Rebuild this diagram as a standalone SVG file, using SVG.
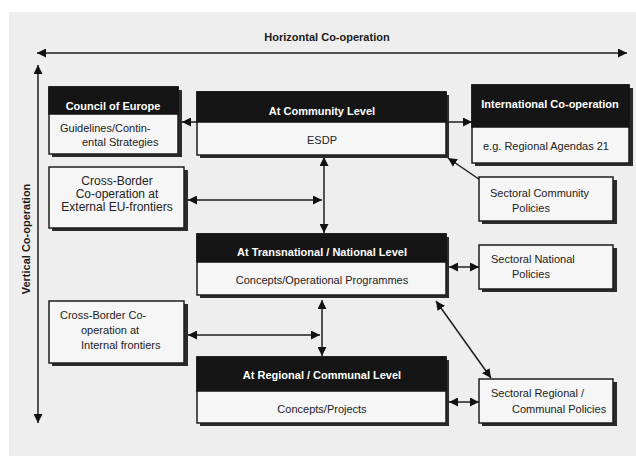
<svg xmlns="http://www.w3.org/2000/svg" width="636" height="456" viewBox="0 0 636 456">
<defs>
<style>
.bg{fill:#eeeeee}
.sh{fill:#2b2b2b}
.box{fill:#f6f6f6;stroke:#1e1e1e;stroke-width:1.5}
.hd{fill:#151515;stroke:#151515;stroke-width:1.5}
.t{font-family:"Liberation Sans",Arial,sans-serif;font-size:11px;fill:#222}
.t12{font-family:"Liberation Sans",Arial,sans-serif;font-size:12px;fill:#222}
.h{font-family:"Liberation Sans",Arial,sans-serif;font-size:11px;font-weight:bold;fill:#ffffff}
.lbl{font-family:"Liberation Sans",Arial,sans-serif;font-size:11px;font-weight:bold;fill:#1a1a1a}
.c{text-anchor:middle}
.ln{stroke:#1e1e1e;stroke-width:1.5;fill:none}
</style>
<marker id="ah" viewBox="0 0 10 10" refX="10" refY="5" markerWidth="9" markerHeight="9" markerUnits="userSpaceOnUse" orient="auto-start-reverse">
<path d="M0,0 L10,5 L0,10 z" fill="#111"/>
</marker>
</defs>
<rect x="0" y="0" width="636" height="456" fill="#ffffff"/>
<rect class="bg" x="9" y="12" width="627" height="444"/>

<text class="lbl c" x="327" y="41">Horizontal Co-operation</text>
<text class="lbl c" transform="translate(30,239) rotate(-90)">Vertical Co-operation</text>

<g id="connectors">
<line class="ln" x1="37" y1="53" x2="627" y2="53" marker-start="url(#ah)" marker-end="url(#ah)"/>
<line class="ln" x1="38" y1="65" x2="38" y2="423" marker-start="url(#ah)" marker-end="url(#ah)"/>
<line class="ln" x1="197" y1="122" x2="182" y2="122" marker-end="url(#ah)"/>
<line class="ln" x1="446" y1="122" x2="472" y2="122" marker-end="url(#ah)"/>
<line class="ln" x1="324" y1="157" x2="324" y2="233" marker-start="url(#ah)" marker-end="url(#ah)"/>
<line class="ln" x1="188" y1="200" x2="322" y2="200" marker-start="url(#ah)" marker-end="url(#ah)"/>
<line class="ln" x1="448" y1="158" x2="489" y2="186" marker-start="url(#ah)" marker-end="url(#ah)"/>
<line class="ln" x1="449" y1="267" x2="479" y2="267" marker-start="url(#ah)" marker-end="url(#ah)"/>
<line class="ln" x1="188" y1="335" x2="320" y2="335" marker-start="url(#ah)" marker-end="url(#ah)"/>
<line class="ln" x1="322" y1="300" x2="322" y2="356" marker-start="url(#ah)" marker-end="url(#ah)"/>
<line class="ln" x1="436" y1="301" x2="491" y2="378" marker-start="url(#ah)" marker-end="url(#ah)"/>
<line class="ln" x1="449" y1="402" x2="479" y2="402" marker-start="url(#ah)" marker-end="url(#ah)"/>
</g>

<g id="council">
<rect class="sh" x="52" y="90" width="130" height="67"/>
<rect class="box" x="49" y="87" width="129" height="67"/>
<rect class="hd" x="49" y="87" width="129" height="27"/>
<text class="h c" x="113" y="110">Council of Europe</text>
<text class="t" x="60" y="132">Guidelines/Contin-</text>
<text class="t" x="82" y="146">ental Strategies</text>
</g>

<g id="external">
<rect class="sh" x="52" y="170" width="136" height="61"/>
<rect class="box" x="49" y="167" width="135" height="61"/>
<text class="t12 c" x="117" y="185">Cross-Border</text>
<text class="t12 c" x="117" y="198">Co-operation at</text>
<text class="t12 c" x="117" y="211">External EU-frontiers</text>
</g>

<g id="internal">
<rect class="sh" x="52" y="304" width="136" height="62"/>
<rect class="box" x="49" y="301" width="135" height="62"/>
<text class="t" x="60" y="319">Cross-Border Co-</text>
<text class="t" x="81" y="334">operation at</text>
<text class="t" x="81" y="349">Internal frontiers</text>
</g>

<g id="community">
<rect class="sh" x="200" y="95" width="249" height="63"/>
<rect class="box" x="197" y="92" width="249" height="63"/>
<rect class="hd" x="197" y="92" width="249" height="30"/>
<text class="h c" x="322" y="115">At Community Level</text>
<text class="t c" x="322" y="144">ESDP</text>
</g>

<g id="transnational">
<rect class="sh" x="200" y="237" width="249" height="61"/>
<rect class="box" x="197" y="234" width="249" height="61"/>
<rect class="hd" x="197" y="234" width="249" height="28"/>
<text class="h c" x="322" y="256">At Transnational / National Level</text>
<text class="t c" x="322" y="284">Concepts/Operational Programmes</text>
</g>

<g id="regional">
<rect class="sh" x="200" y="360" width="249" height="66"/>
<rect class="box" x="197" y="357" width="249" height="66"/>
<rect class="hd" x="197" y="357" width="249" height="34"/>
<text class="h c" x="322" y="379">At Regional / Communal Level</text>
<text class="t c" x="322" y="413">Concepts/Projects</text>
</g>

<g id="international">
<rect class="sh" x="475" y="88" width="158" height="78"/>
<rect class="box" x="472" y="85" width="157" height="78"/>
<rect class="hd" x="472" y="85" width="157" height="42"/>
<text class="h c" x="550" y="108">International Co-operation</text>
<text class="t" x="483" y="150">e.g. Regional Agendas 21</text>
</g>

<g id="sectoral-community">
<rect class="sh" x="482" y="180" width="135" height="44"/>
<rect class="box" x="479" y="177" width="134" height="44"/>
<text class="t" x="490" y="197">Sectoral Community</text>
<text class="t" x="512" y="212">Policies</text>
</g>

<g id="sectoral-national">
<rect class="sh" x="482" y="248" width="135" height="44"/>
<rect class="box" x="479" y="245" width="134" height="44"/>
<text class="t" x="491" y="263">Sectoral National</text>
<text class="t" x="512" y="278">Policies</text>
</g>

<g id="sectoral-regional">
<rect class="sh" x="482" y="382" width="135" height="44"/>
<rect class="box" x="479" y="379" width="134" height="44"/>
<text class="t" x="491" y="397">Sectoral Regional /</text>
<text class="t" x="512" y="413">Communal Policies</text>
</g>
</svg>
